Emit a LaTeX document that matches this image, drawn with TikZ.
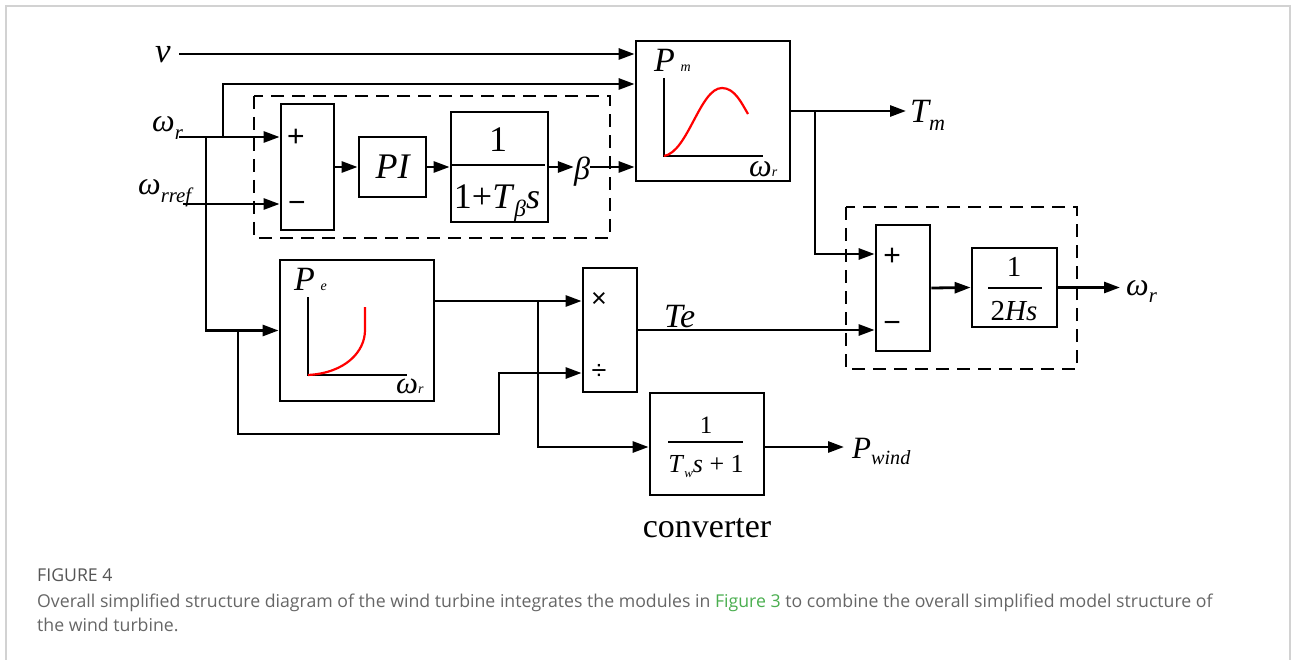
\documentclass[tikz,border=0pt]{standalone}
\usepackage{graphicx}
\usepackage{xcolor}
\usepackage{fontspec}
\setmainfont{Liberation Serif}
\newfontfamily\capfont{Open Sans}
\newfontfamily\sgnfont{Liberation Sans}
\usepackage{tikz}
\usetikzlibrary{positioning,arrows.meta,calc}
\definecolor{capgray}{HTML}{666666}
\definecolor{capdark}{HTML}{555555}
\definecolor{capgreen}{HTML}{4AAE4F}
\definecolor{framegray}{HTML}{D2D2D2}
\newcommand{\fs}[1]{\fontsize{#1}{#1}\selectfont}
\newcommand{\low}[2][0.65]{\raisebox{-0.22em}{\scalebox{#1}{#2}}}
\newcommand{\wee}[2][14]{{\fontsize{#1}{#1}\selectfont #2}}

\begin{document}
\begin{tikzpicture}[x=1pt,y=-1pt,
  blk/.style={draw,line width=2.8pt,inner sep=0pt},
  arr/.style={-{Triangle[length=16pt,width=11pt]},line width=2.8pt},
  dbox/.style={line width=2.4pt,dash pattern=on 13pt off 8pt},
  lbl/.style={inner sep=0pt,font=\fs{32}\itshape},
  sgn/.style={inner sep=0pt,font=\sgnfont\fs{30}},
  crv/.style={red,line width=2.2pt}]
\useasboundingbox (0,0) rectangle (1292,660);
\draw[framegray,line width=1.5pt] (6,665) -- (6,6) -- (1290,6) -- (1290,665);

% group frames
\draw[dbox] (254,96) rectangle (610,238);
\draw[dbox] (846,207) rectangle (1077,369);

% blocks
\node[blk,minimum width=154pt,minimum height=140pt] (Pm) at (713,111) {};
\node[blk,minimum width=53pt,minimum height=126pt] (sum1) at (307.5,167) {};
\node[blk,minimum width=67pt,minimum height=60pt,font=\fs{36}\itshape] (PI) at (392.5,167) {PI};
\node[blk,minimum width=97pt,minimum height=110pt] (tb) at (499.5,167) {};
\node[blk,minimum width=154pt,minimum height=141pt] (Pe) at (357,330.5) {};
\node[blk,minimum width=54pt,minimum height=124pt] (mult) at (610,330) {};
\node[blk,minimum width=54pt,minimum height=126pt] (sum2) at (903,288) {};
\node[blk,minimum width=85pt,minimum height=79pt] (hs) at (1014.5,287.5) {};
\node[blk,minimum width=114pt,minimum height=102pt] (tw) at (707,444) {};

% block contents
\node[sgn] (p1) at (296,138) {+};
\node[sgn] (m1) at (297,207) {−};
\node[sgn] (p2) at (892,257) {+};
\node[sgn] (m2) at (892,327) {−};
\node[sgn,font=\sgnfont\fs{27}] (mul) at (599,300) {×};
\node[sgn,font=\sgnfont\fs{27}] (dvd) at (599,372) {÷};

\node[inner sep=0pt,font=\fs{36}] (tbn) at (498,140) {1};
\node[inner sep=0pt,font=\fs{36},anchor=base] (tbd) at (497,209) {1+\textit{T}\low{\textit{β}}\textit{s}};
\draw[line width=1.8pt] (451,165) -- (545,165);

\node[inner sep=0pt,font=\fs{29}] (hsn) at (1014,267) {1};
\node[inner sep=0pt,font=\fs{29},anchor=base] (hsd) at (1014,320) {2\textit{Hs}};
\draw[line width=1.5pt] (988,288) -- (1042,288);

\node[inner sep=0pt,font=\fs{25}] (twn) at (706,425) {1};
\node[inner sep=0pt,font=\fs{26},anchor=base] (twd) at (706,472) {\textit{T}\low[0.5]{\textit{w}}\textit{s} + 1};
\draw[line width=1.5pt] (668,442) -- (743,442);

% characteristic curves
\draw[line width=2.4pt] (664,78) -- (664,156) -- (763,156);
\draw[crv] (664,156) .. controls (688,152) and (700,88) .. (722,88)
  .. controls (735,88) and (742,104) .. (748,114);
\node[lbl,anchor=base west,font=\fs{34}\itshape] (pml) at (654,72) {P\,\wee{m}};
\node[lbl,anchor=base west] (pmw) at (749,177) {ω\wee{r}};

\draw[line width=2.4pt] (308,297) -- (308,375) -- (407,375);
\draw[crv] (308,375) .. controls (345,373) and (365,352) .. (365,330) -- (365,307);
\node[lbl,anchor=base west,font=\fs{34}\itshape] (pel) at (294,290) {P\,\wee{e}};
\node[lbl,anchor=base west,font=\fs{31}\itshape] (pew) at (396,393) {ω\wee{r}};

% signal labels
\node[lbl,font=\fs{35}\itshape] (v) at (163,55) {v};
\node[lbl,anchor=base west] (wr) at (152,132) {ω\low{r}};
\node[lbl,anchor=base west] (wref) at (138,195) {ω\low{rref}};
\node[lbl,anchor=base] (beta) at (582,180) {β};
\node[lbl,anchor=base west,font=\fs{34}\itshape] (tm) at (910,123) {T\low{m}};
\node[lbl,anchor=base west,font=\fs{34}\itshape] (te) at (664,327) {Te};
\node[lbl,anchor=base west] (wout) at (1126,295) {ω\low{r}};
\node[lbl,anchor=base west,font=\fs{31}\itshape] (pw) at (852,458) {P\low{wind}};
\node[inner sep=0pt,font=\fs{34},anchor=base] (conv) at (707,537) {converter};

% junctions
\coordinate (vin) at (179,54);
\coordinate (wrin) at (179,137);
\coordinate (wrefin) at (183,204);
\coordinate (j1) at (223,137);
\coordinate (j1t) at (223,84);
\coordinate (j2) at (206,137);
\coordinate (j3) at (238,331);
\coordinate (j3b) at (499,434);
\coordinate (peo) at (434,301);
\coordinate (j4) at (538,301);
\coordinate (j5) at (815,111);

% signals
\draw[arr] (vin) -- (vin -| Pm.west);
\draw[arr] (wrin) -- (wrin -| sum1.west);
\draw[arr] (j1) -- (j1t) -- (j1t -| Pm.west);
\draw[arr] (wrefin) -- (wrefin -| sum1.west);
\draw[arr] (j2) |- (Pe.west);
\draw[arr] (j3) |- (j3b) |- (mult.west |- 0,373);
\draw[arr] (sum1.east) -- (PI.west);
\draw[arr] (PI.east) -- (tb.west);
\draw[arr] (tb.east) -- (tb.east -| beta.west);
\draw[arr] (beta.east |- tb.east) -- (tb.east -| Pm.west);
\draw[arr,shorten >=4pt] (Pm.east) -- (Pm.east -| tm.west);
\draw[arr] (j5) |- (sum2.west |- 0,254);
\draw[arr] (peo) -- (peo -| mult.west);
\draw[arr] (j4) |- (tw.west |- 0,447);
\draw[arr] (mult.east) -- (mult.east -| sum2.west);
\draw[arr] (sum2.east) -- (hs.west);
\draw[arr,shorten >=6pt] (hs.east) -- (hs.east -| wout.west);
\draw[arr,shorten >=8pt] (tw.east |- 0,447) -- (pw.west |- 0,447);

% caption
\node[anchor=base west,inner sep=0pt,font=\capfont\fs{17.7},text=capdark] (fig) at (37,581) {FIGURE 4};
\node[anchor=base west,inner sep=0pt,font=\capfont\fs{17.7},text=capgray] (cap1) at (37,607)
  {Overall simplified structure diagram of the wind turbine integrates the modules in \textcolor{capgreen}{Figure 3} to combine the overall simplified model structure of};
\node[anchor=base west,inner sep=0pt,font=\capfont\fs{17.7},text=capgray] (cap2) at (37,631) {the wind turbine.};
\end{tikzpicture}
\end{document}
